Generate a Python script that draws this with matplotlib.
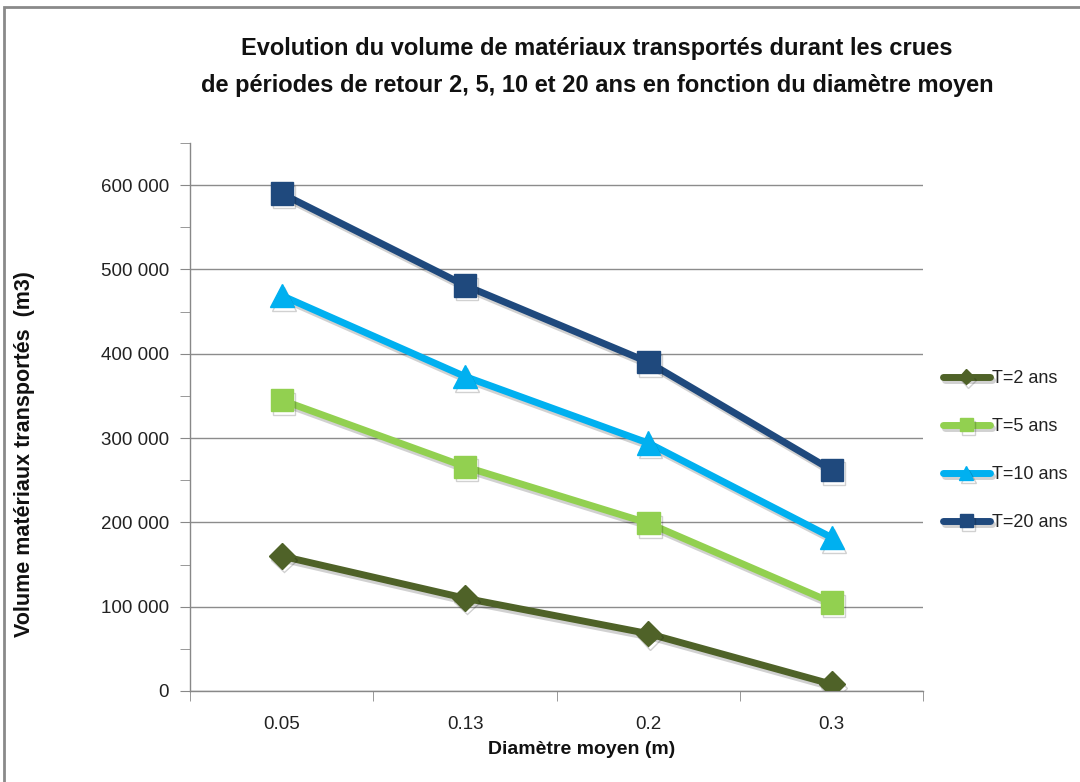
import matplotlib
matplotlib.use('Agg')
import matplotlib.pyplot as plt
import matplotlib.patheffects as pe
from matplotlib.patches import Rectangle
import numpy as np

plt.rcParams['font.family'] = ['Liberation Sans', 'DejaVu Sans']

diametres = ['0.05', '0.13', '0.2', '0.3']
series = ['T=2 ans', 'T=5 ans', 'T=10 ans', 'T=20 ans']
t2 = [160000, 110000, 68000, 8000]
t5 = [345000, 266000, 199000, 105000]
t10 = [469000, 373000, 294000, 182000]
t20 = [590000, 481000, 390000, 262000]

colors = ['#4F6228', '#92D050', '#00B0F0', '#1F497D']
markers = ['D', 's', '^', 's']
msizes = [13, 16, 17, 16]

fig = plt.figure(figsize=(10.8, 7.82), dpi=100)
ax = fig.add_axes([0.176, 0.1164, 0.679, 0.7007])

x = np.arange(len(diametres))
shadow = [pe.SimpleLineShadow(offset=(1.5, -2.5), alpha=0.18, shadow_color='k'), pe.Normal()]
for vals, lab, c, m, ms in zip([t2, t5, t10, t20], series, colors, markers, msizes):
    ax.plot(x, vals, color=c, lw=5, marker=m, markersize=ms, label=lab,
            solid_capstyle='round', path_effects=shadow, zorder=3)

ax.set_xlim(-0.5, 3.5)
ax.set_ylim(0, 650000)
ax.set_xticks(x)
ax.set_xticklabels(diametres)
ax.set_xticks(np.arange(-0.5, 3.6, 1), minor=True)
ax.tick_params(axis='x', which='major', length=0, labelsize=13.5, pad=18, colors='#222222')
ax.tick_params(axis='x', which='minor', length=7, color='#888888', direction='out')

ax.set_yticks(np.arange(0, 600001, 100000))
ax.set_yticklabels(['0' if v == 0 else f'{v // 1000} 000' for v in range(0, 600001, 100000)])
ax.set_yticks(np.arange(50000, 650001, 100000), minor=True)
ax.tick_params(axis='y', which='both', length=7, color='#888888', direction='out',
               labelsize=13.5, pad=8, labelcolor='#222222')
ax.yaxis.grid(True, which='major', color='#8c8c8c', lw=1)
ax.set_axisbelow(True)

for s in ['top', 'right']:
    ax.spines[s].set_visible(False)
for s in ['left', 'bottom']:
    ax.spines[s].set_color('#888888')
    ax.spines[s].set_linewidth(1)

fig.text(25 / 1080, 1 - 454 / 782, 'Volume matériaux transportés  (m3)', rotation=90,
         ha='center', va='center', fontsize=15.5, fontweight='bold', color='#111111')
fig.text(582 / 1080, 1 - 750 / 782, 'Diamètre moyen (m)',
         ha='center', va='center', fontsize=14, fontweight='bold', color='#111111')

fig.text(0.553, 0.938, 'Evolution du volume de matériaux transportés durant les crues',
         ha='center', va='center', fontsize=17, fontweight='bold', color='#111111')
fig.text(0.553, 0.891, 'de périodes de retour 2, 5, 10 et 20 ans en fonction du diamètre moyen',
         ha='center', va='center', fontsize=17, fontweight='bold', color='#111111')

leg = fig.legend(loc='center left', bbox_to_anchor=(0.858, 0.424), frameon=False,
                 fontsize=13, handlelength=2.6, handletextpad=0.1, labelspacing=1.72,
                 markerscale=0.6)
for t in leg.get_texts():
    t.set_color('#222222')

fig.add_artist(Rectangle((0.004, -0.01), 1.0, 1.001, transform=fig.transFigure,
                         fill=False, edgecolor='#8a8a8a', lw=2))

fig.savefig('out.png', dpi=100)
